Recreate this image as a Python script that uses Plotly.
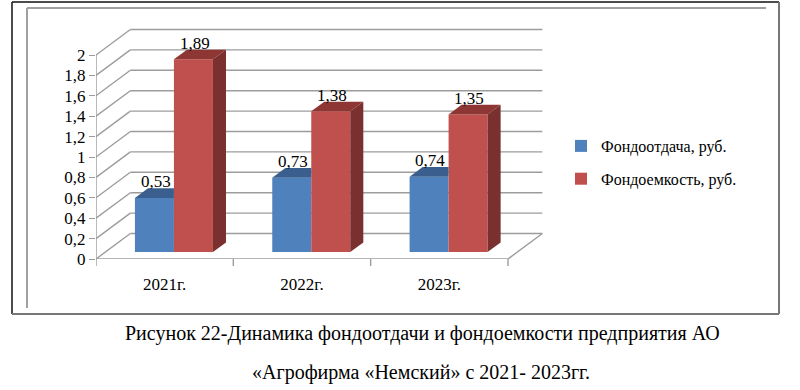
import plotly.graph_objects as go

# ---- data ----
categories = ["2021г.", "2022г.", "2023г."]
fondootdacha = [0.53, 0.73, 0.74]
fondoemkost = [1.89, 1.38, 1.35]
series_names = ["Фондоотдача, руб.", "Фондоемкость, руб."]
y_ticks = [0, 0.2, 0.4, 0.6, 0.8, 1, 1.2, 1.4, 1.6, 1.8, 2]
caption1 = "Рисунок 22-Динамика фондоотдачи и фондоемкости предприятия АО"
caption2 = "«Агрофирма «Немский» с 2021- 2023гг."

# ---- styling / geometry ----
FONT = "Liberation Serif"
BLUE, BLUE_TOP = "#4F81BD", "#3A5F8E"
RED, RED_TOP, RED_SIDE = "#C0504D", "#8E3633", "#79302E"
GRID = "#9C9C9C"

W, H = 800, 390
ML, MR, MT, MB = 96, 240, 20, 131
PW, PH = W - ML - MR, H - MT - MB
XPX = 137.33   # px per category unit
YPX = 102.0    # px per value unit
x_lo = -0.5
x_hi = x_lo + PW / XPX
y_hi = PH / YPX

DX, DY = 0.25, 0.25       # full depth of the 3D box in data units
F1, FD = 0.27, 0.38       # bar front-plane depth fraction and bar depth fraction
BW = 0.284                # bar width in category units

def xp(px):
    return (px - ML) / PW

def yp(py):
    return (H - MB - py) / PH

fig = go.Figure()

xs = list(range(len(categories)))
x_end = len(categories) - 0.5
bx = F1 * DX
by = F1 * DY
ddx, ddy = FD * DX, FD * DY

fig.add_trace(go.Bar(
    x=[i + bx for i in xs], y=fondootdacha, base=[by] * len(xs),
    offset=-BW, width=BW, marker=dict(color=BLUE, line=dict(width=0)),
    name=series_names[0], legendgroup="a", hoverinfo="skip"))
fig.add_trace(go.Bar(
    x=[i + bx for i in xs], y=fondoemkost, base=[by] * len(xs),
    offset=0, width=BW, marker=dict(color=RED, line=dict(width=0)),
    name=series_names[1], legendgroup="b", hoverinfo="skip"))

def poly(pts, color):
    fig.add_trace(go.Scatter(
        x=[p[0] for p in pts] + [pts[0][0]], y=[p[1] for p in pts] + [pts[0][1]],
        mode="lines", fill="toself", fillcolor=color, line=dict(width=0, color=color),
        showlegend=False, hoverinfo="skip"))

annots = []
for i, (vb, vr) in enumerate(zip(fondootdacha, fondoemkost)):
    x0, x1 = i + bx - BW, i + bx
    yt = vb + by
    poly([(x0, yt), (x1, yt), (x1, yt + ddy), (x0 + ddx, yt + ddy)], BLUE_TOP)
    r0, r1 = i + bx, i + bx + BW
    rt = vr + by
    poly([(r0, rt), (r1, rt), (r1 + ddx, rt + ddy), (r0 + ddx, rt + ddy)], RED_TOP)
    poly([(r1, by), (r1, rt), (r1 + ddx, rt + ddy), (r1 + ddx, by + ddy)], RED_SIDE)
    for (c0, v, t) in ((x0, vb, yt), (r0, vr, rt)):
        annots.append(dict(
            x=c0 + BW / 2 + 0.01, y=t + ddy, xref="x", yref="y",
            text=f"{v:.2f}".replace(".", ","), showarrow=False,
            yanchor="bottom", yshift=-5,
            font=dict(family=FONT, size=17, color="#000000")))

shapes = []
for v in y_ticks:
    shapes.append(dict(type="line", xref="x", yref="y", x0=x_lo + DX, y0=v + DY,
                       x1=x_end + DX, y1=v + DY, line=dict(color=GRID, width=1.4), layer="below"))
    shapes.append(dict(type="line", xref="x", yref="y", x0=x_lo, y0=v,
                       x1=x_lo + DX, y1=v + DY, line=dict(color=GRID, width=1.4), layer="below"))
shapes.append(dict(type="line", xref="x", yref="y", x0=x_lo, y0=0, x1=x_end, y1=0,
                   line=dict(color=GRID, width=1.4), layer="below"))
shapes.append(dict(type="line", xref="x", yref="y", x0=x_end, y0=0, x1=x_end + DX, y1=DY,
                   line=dict(color=GRID, width=1.4), layer="below"))
shapes.append(dict(type="line", xref="x", yref="y", x0=x_lo, y0=0, x1=x_lo, y1=y_ticks[-1],
                   line=dict(color=GRID, width=1.4), layer="below"))
# category boundary tick marks
for i in range(len(categories) + 1):
    shapes.append(dict(type="line", xref="x", yref="paper", x0=i - 0.5, x1=i - 0.5,
                       y0=0, y1=-7, ysizemode="pixel", yanchor=0,
                       line=dict(color=GRID, width=1.4)))

shapes.append(dict(type="line", xref="paper", yref="paper", x0=xp(12), y0=yp(2), x1=xp(12), y1=yp(314),
                   line=dict(color="#111", width=1.5)))
shapes.append(dict(type="line", xref="paper", yref="paper", x0=xp(12), y0=yp(2), x1=xp(779), y1=yp(2),
                   line=dict(color="#111", width=1.5)))
shapes.append(dict(type="line", xref="paper", yref="paper", x0=xp(779), y0=yp(2), x1=xp(779), y1=yp(314),
                   line=dict(color="#777", width=2)))
shapes.append(dict(type="line", xref="paper", yref="paper", x0=xp(12), y0=yp(314), x1=xp(779), y1=yp(314),
                   line=dict(color="#777", width=2)))
shapes.append(dict(type="line", xref="paper", yref="paper", x0=xp(27), y0=yp(8), x1=xp(27), y1=yp(308),
                   line=dict(color="#A0A0A0", width=2)))
shapes.append(dict(type="line", xref="paper", yref="paper", x0=xp(27), y0=yp(8), x1=xp(766), y1=yp(8),
                   line=dict(color="#A0A0A0", width=2)))

annots.append(dict(x=xp(422), y=yp(333), xref="paper", yref="paper", text=caption1,
                   showarrow=False, xanchor="center", yanchor="middle",
                   font=dict(family=FONT, size=20, color="#000000")))
annots.append(dict(x=xp(421), y=yp(372), xref="paper", yref="paper", text=caption2,
                   showarrow=False, xanchor="center", yanchor="middle",
                   font=dict(family=FONT, size=20, color="#000000")))

fig.update_layout(
    template="none",
    width=W, height=H, margin=dict(l=ML, r=MR, t=MT, b=MB, pad=0),
    paper_bgcolor="white", plot_bgcolor="white",
    font=dict(family=FONT, color="#000000"),
    xaxis=dict(range=[x_lo, x_hi], tickvals=xs, ticktext=categories,
               ticks="outside", ticklen=10, tickcolor="rgba(0,0,0,0)",
               showgrid=False, zeroline=False, showline=False,
               tickfont=dict(family=FONT, size=17, color="#000000")),
    yaxis=dict(range=[0, y_hi], tickvals=y_ticks,
               ticktext=[f"{v:g}".replace(".", ",") for v in y_ticks],
               ticks="outside", ticklen=6,
               tickcolor=GRID, tickwidth=1.4, showgrid=False, zeroline=False, showline=False,
               tickfont=dict(family=FONT, size=17, color="#000000")),
    shapes=shapes, annotations=annots,
    legend=dict(x=xp(561), y=yp(129), xanchor="left", yanchor="top", itemwidth=30,
                tracegroupgap=9,
                font=dict(family=FONT, size=16, color="#000000"), bgcolor="rgba(0,0,0,0)"),
    showlegend=True,
)

fig.write_html("out.html")
